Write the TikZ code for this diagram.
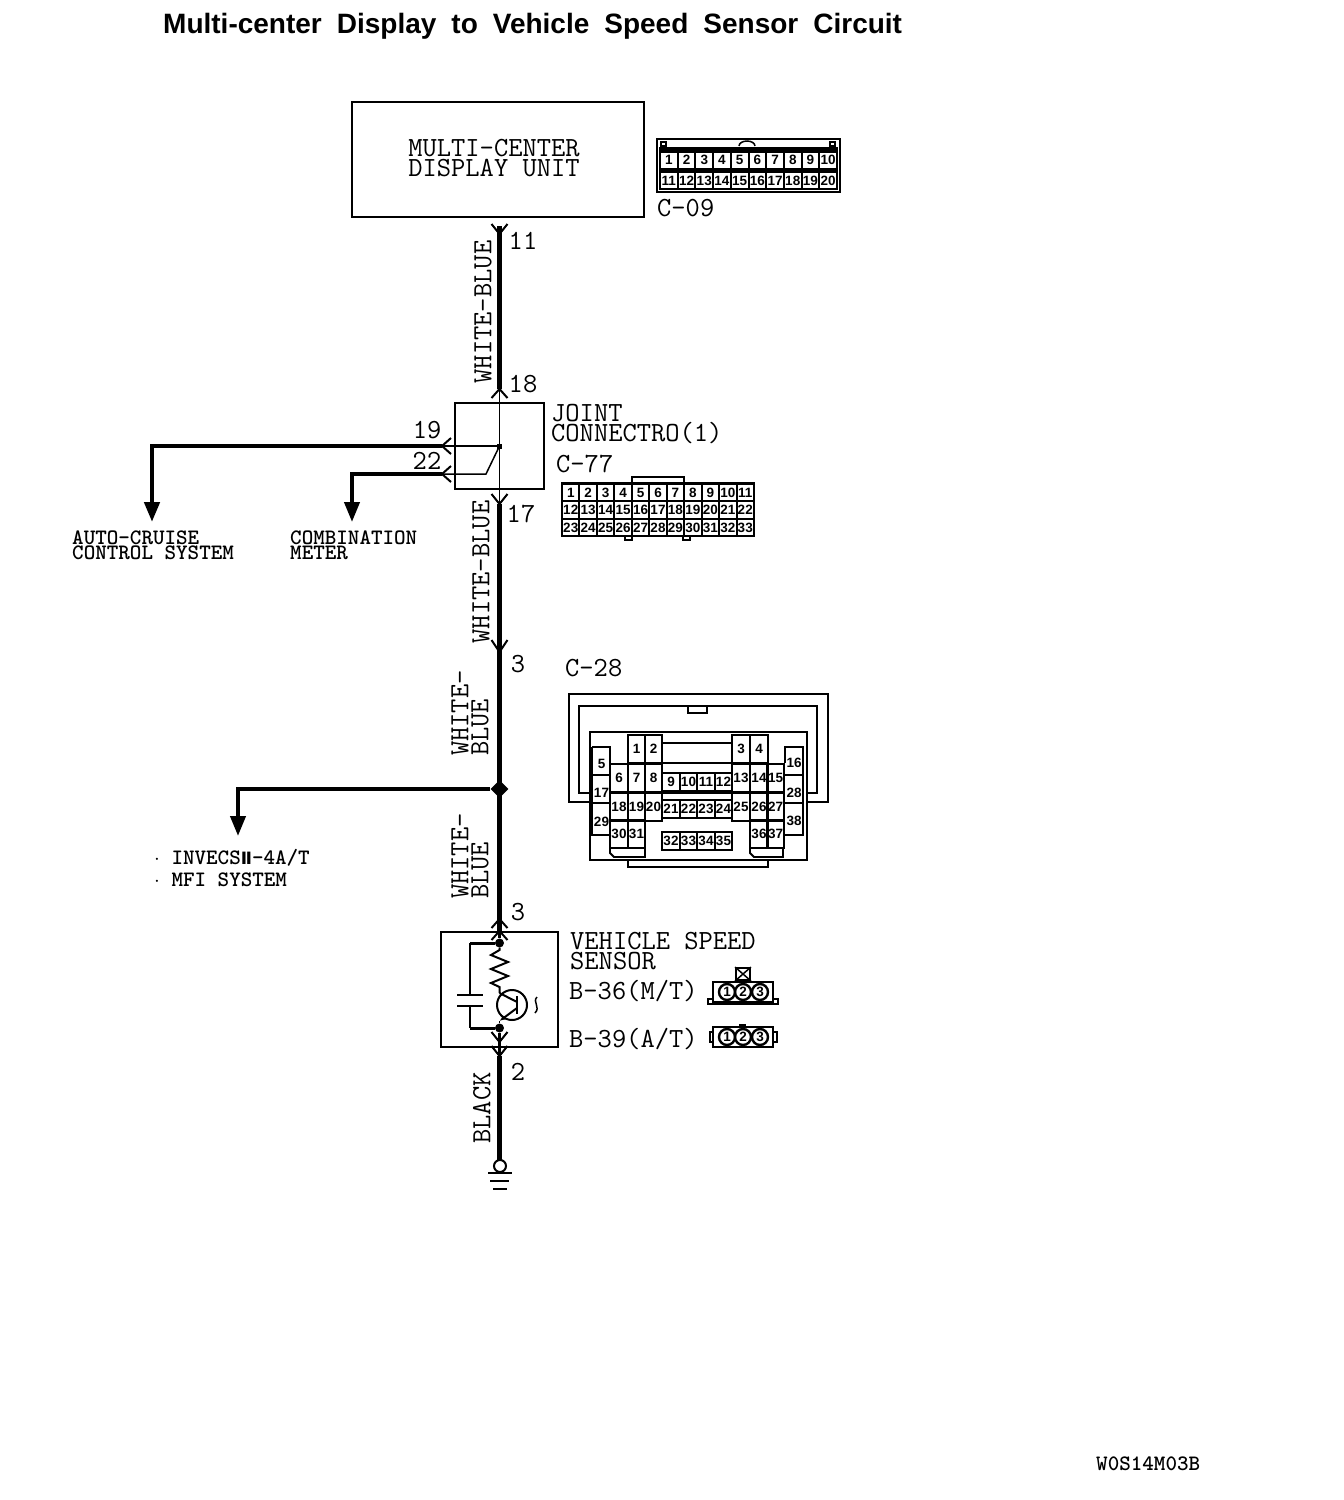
\documentclass[tikz,border=0pt]{standalone}
\usepackage{fontspec}
\usetikzlibrary{arrows.meta,shapes.geometric}
\newfontfamily\cellfont{Liberation Sans}
\newfontfamily\romanfont{DejaVu Sans}
\begin{document}
\begin{tikzpicture}[x=1pt,y=-1pt]
	\tikzstyle{box_style} = [rectangle,draw=black,line width=1.3pt,inner sep=0pt]
	\tikzstyle{big_text} = [inner sep=0pt,align=left,font=\ttfamily\fontsize{27.7}{20}\selectfont]
	\tikzstyle{small_text} = [inner sep=0pt,align=left,anchor=west,font=\ttfamily\bfseries\fontsize{22}{15.5}\selectfont]
	\tikzstyle{wire_style} = [draw=black,line width=5pt]
	\tikzstyle{branch_style} = [draw=black,line width=4.5pt,line join=miter,-{Triangle[length=20pt,width=15pt]}]
	\tikzstyle{thin_style} = [draw=black,line width=1.5pt]
	\tikzstyle{pin_style} = [draw=black,line width=2pt]
	\tikzstyle{cell_style} = [rectangle,draw=black,line width=2pt,inner sep=0pt,font=\cellfont\bfseries\fontsize{13.5}{14}\selectfont]
	\tikzstyle{shell_style} = [draw=black,line width=1.8pt]
	\tikzstyle{dot_style} = [circle,fill=black,inner sep=0pt,minimum size=9pt]
	\tikzstyle{pos_style} = [circle,draw=black,line width=2.4pt,inner sep=0pt,minimum size=16pt,font=\cellfont\bfseries\fontsize{13.5}{14}\selectfont]
	\useasboundingbox (0,0) rectangle (1344,1500);

	% title and drawing number
	\node[anchor=west,inner sep=0pt,font=\cellfont\bfseries\fontsize{28}{28}\selectfont] (title) at (163,26) {\spaceskip=15pt Multi-center Display to Vehicle Speed Sensor Circuit};
	\node[small_text] (drawing_no) at (1096,1464) {W0S14M03B};

	% units
	\node[box_style,minimum width=292pt,minimum height=115pt] (display) at (498,159.5) {};
	\node[big_text,align=center] (display_text) at (494,158.5) {MULTI-CENTER\\DISPLAY UNIT};
	\node[box_style,minimum width=89pt,minimum height=86pt] (joint) at (499.5,446) {};
	\node[box_style,minimum width=117pt,minimum height=115pt] (sensor) at (499.5,989.5) {};
	\node[big_text,anchor=west] (joint_text) at (551,424.5) {JOINT\\CONNECTRO(1)};
	\node[big_text,anchor=west] (c77) at (556,464) {C-77};
	\node[big_text,anchor=west] (c09) at (657,208) {C-09};
	\node[big_text,anchor=west] (c28) at (565,668) {C-28};
	\node[big_text,anchor=west] (sensor_text) at (570,951) {VEHICLE SPEED\\SENSOR};
	\node[big_text,anchor=west] (b36) at (569,991) {B-36(M/T)};
	\node[big_text,anchor=west] (b39) at (569,1039) {B-39(A/T)};

	% terminals
	\coordinate (t11) at (499.5,234);
	\coordinate (t18) at (499.5,389);
	\coordinate (t19) at (442,446);
	\coordinate (t22) at (442,474);
	\coordinate (t17) at (499.5,504);
	\coordinate (t3a) at (499.5,652);
	\coordinate (t3b) at (499.5,919);
	\coordinate (t3c) at (499.5,931);
	\coordinate (t2a) at (499.5,1042);
	\coordinate (t2b) at (499.5,1056);
	\coordinate (cruise) at (152,522);
	\coordinate (meter) at (352,522);
	\coordinate (invecs) at (238,836);
	\coordinate (earth) at (499.5,1160);
	\node[diamond,fill=black,inner sep=0pt,minimum size=18pt] (branch) at (499.5,789) {};
	\node[rectangle,fill=black,inner sep=0pt,minimum size=5pt] (joint_dot) at (499.5,446) {};
	\coordinate (knee) at (486,474);
	\draw[pin_style] (t11) ++(-8,-10) -- ++(8,10) -- ++(8,-10);
	\draw[pin_style] (t18) ++(-8,9) -- ++(8,-9) -- ++(8,9);
	\draw[pin_style] (t17) ++(-8,-10) -- ++(8,10) -- ++(8,-10);
	\draw[pin_style] (t3a) ++(-8,-12) -- ++(8,12) -- ++(8,-12);
	\draw[pin_style] (t3b) ++(-8,9) -- ++(8,-9) -- ++(8,9);
	\draw[pin_style] (t3c) ++(-8,9) -- ++(8,-9) -- ++(8,9);
	\draw[pin_style] (t2a) ++(-8,-10) -- ++(8,10) -- ++(8,-10);
	\draw[pin_style] (t2b) ++(-8,-10) -- ++(8,10) -- ++(8,-10);
	\draw[pin_style] (t19) ++(9,-8) -- ++(-9,8) -- ++(9,8);
	\draw[pin_style] (t22) ++(9,-8) -- ++(-9,8) -- ++(9,8);

	% wires
	\draw[wire_style] (t11) ++(0,-8) -- (t18);
	\draw[thin_style] (t18) -- (t17);
	\draw[thin_style] (joint_dot) -- (t19);
	\draw[thin_style] (joint_dot) -- (knee) -- (t22);
	\draw[wire_style] (t17) -- (t3c);
	\draw[wire_style] (t2b) -- (earth);
	\draw[branch_style] (t19) -- (152,446) -- (cruise);
	\draw[branch_style,line width=4pt] (t22) -- (352,474) -- (meter);
	\draw[branch_style,line width=4pt] (branch) -- (238,789) -- (invecs);

	% terminal numbers
	\node[big_text] (n11) at (523,241) {11};
	\node[big_text] (n18) at (523,384) {18};
	\node[big_text] (n19) at (427,430) {19};
	\node[big_text] (n22) at (427,461) {22};
	\node[big_text] (n17) at (521,514) {17};
	\node[big_text] (n3a) at (518,664) {3};
	\node[big_text] (n3b) at (518,912) {3};
	\node[big_text] (n2) at (518,1072) {2};

	% wire colours
	\node[big_text,rotate=90] (w1) at (483,312) {WHITE-BLUE};
	\node[big_text,rotate=90] (w2) at (481,572) {WHITE-BLUE};
	\node[big_text,rotate=90,anchor=west] (w3) at (470,756) {WHITE-\\BLUE};
	\node[big_text,rotate=90,anchor=west] (w4) at (470,899) {WHITE-\\BLUE};
	\node[big_text,rotate=90] (w5) at (482,1108) {BLACK};

	% destinations
	\node[small_text] (cruise_text) at (72,545.5) {AUTO-CRUISE\\CONTROL SYSTEM};
	\node[small_text] (meter_text) at (290,545.5) {COMBINATION\\METER};
	\node[small_text] (invecs_text) at (154,858) {$\cdot$ INVECS{\romanfont\fontsize{17}{17}\selectfont\char"2161}-4A/T};
	\node[small_text] (mfi_text) at (154,880) {$\cdot$ MFI SYSTEM};

	% speed sensor inside
	\node[dot_style] (s_top) at (499.5,943) {};
	\node[dot_style] (s_bot) at (499.5,1028) {};
	\coordinate (s_c1) at (470,943);
	\coordinate (s_c2) at (470,1028);
	\coordinate (plate1) at (470,995);
	\coordinate (plate2) at (470,1006);
	\draw[wire_style,line width=3pt] (t3c) -- (s_top);
	\draw[wire_style,line width=3pt] (s_bot) -- (t2b);
	\draw[wire_style,line width=3pt] (s_top) -- (s_c1);
	\draw[wire_style,line width=3pt] (s_bot) -- (s_c2);
	\draw[thin_style] (s_c1) -- (plate1);
	\draw[thin_style] (s_c2) -- (plate2);
	\draw[thin_style] (plate1) ++(-13,0) -- ++(26,0);
	\draw[thin_style] (plate2) ++(-13,0) -- ++(26,0);
	\draw[draw=black,line width=2pt] (s_top) -- (499.5,950) -- (491,955) -- (508,962) -- (491,969) -- (508,976) -- (491,983) -- (499.5,987) -- (499.5,993);
	\node[circle,draw=black,line width=2pt,fill=white,minimum size=30pt,inner sep=0pt] (tr) at (512,1005) {};
	\draw[draw=black,line width=2.5pt] (517,996) -- (517,1014);
	\draw[draw=black,line width=2pt] (499.5,993) -- (517,1002);
	\draw[draw=black,line width=2pt,-{Latex[length=6pt,width=5pt]}] (517,1008) -- (499.5,1021);
	\draw[thin_style] (499.5,1021) -- (s_bot);
	\draw[thin_style] (537,997) .. controls (532,1002) and (541,1007) .. (535,1013);

	% earth
	\node[circle,draw=black,line width=2pt,inner sep=0pt,minimum size=12pt] (ring) at (500,1166) {};
	\draw[wire_style,line width=2pt] (488,1172.5) -- (512,1172.5);
	\draw[thin_style] (490,1181) -- (509,1181);
	\draw[wire_style,line width=2pt] (493,1189) -- (507,1189);

	% connector C-09
	\node[shell_style,rectangle,minimum width=183pt,minimum height=53pt,line width=2.5pt,inner sep=0pt] (c09_shell) at (748.5,165.5) {};
	\fill[black] (659,147) rectangle (838,151);
	\fill[black] (659,168.5) rectangle (838,172);
	\draw[draw=black,line width=1.5pt] (739,146) arc (180:360:8 and 5);
	\draw[thin_style] (661,146) rectangle (666,142);
	\draw[thin_style] (830,146) rectangle (835,142);
	\foreach \i in {1,...,10}
		\node[cell_style,minimum width=17.7pt,minimum height=17pt] (a\i) at (660+\i*17.7-8.85,160) {\i};
	\foreach \i in {11,...,20}
		\node[cell_style,minimum width=17.7pt,minimum height=17pt] (a\i) at (660+\i*17.7-185.85,180.5) {\i};

	% connector C-77
	\node[shell_style,rectangle,minimum width=192pt,minimum height=53pt,inner sep=0pt] (c77_shell) at (658,509.5) {};
	\draw[shell_style] (632,483) -- (632,477) -- (684,477) -- (684,483);
	\draw[shell_style] (625,536) -- (625,540) -- (632,540) -- (632,536);
	\draw[shell_style] (683,536) -- (683,540) -- (690,540) -- (690,536);
	\foreach \i in {1,...,11}
		\node[cell_style,minimum width=17.45pt,minimum height=17.6pt] (b\i) at (562+\i*17.45-8.7,492.5) {\i};
	\foreach \i in {12,...,22}
		\node[cell_style,minimum width=17.45pt,minimum height=17.6pt] (b\i) at (562+\i*17.45-200.65,510) {\i};
	\foreach \i in {23,...,33}
		\node[cell_style,minimum width=17.45pt,minimum height=17.6pt] (b\i) at (562+\i*17.45-392.6,527.5) {\i};

	% connector C-28
	\draw[shell_style] (590,802) -- (569,802) -- (569,694) -- (828,694) -- (828,802) -- (807,802);
	\draw[shell_style] (590,793) -- (579,793) -- (579,706) -- (817,706) -- (817,793) -- (807,793);
	\draw[shell_style] (688,706) -- (688,713) -- (707,713) -- (707,706);
	\node[shell_style,rectangle,minimum width=217pt,minimum height=128pt,inner sep=0pt] (c28_body) at (698.5,796) {};
	\draw[shell_style] (628,860) -- (628,867) -- (768,867) -- (768,860);
	\draw[shell_style] (662,743) -- (732,743);
	\draw[shell_style] (662,763) -- (732,763);
	\draw[shell_style] (662,793) -- (732,793);
	\foreach \n/\x/\y in {1/636.5/749,2/653.5/749,3/741/749,4/759/749,
		6/619/778,7/636.5/778,8/653.5/778,13/741/778,14/759/778,15/775.5/778,
		18/619/807,19/636.5/807,20/653.5/807,25/741/807,26/759/807,27/775.5/807,
		30/619/834,31/636.5/834,36/759/834,37/775.5/834}
		\node[cell_style,minimum width=17.5pt,minimum height=28pt] (c\n) at (\x,\y) {\n};
	\foreach \n/\x/\y in {9/671/781.5,10/688.5/781.5,11/706/781.5,12/723.5/781.5,
		21/671/809,22/688.5/809,23/706/809,24/723.5/809,
		32/671/841,33/688.5/841,34/706/841,35/723.5/841}
		\node[cell_style,minimum width=17.5pt,minimum height=18pt] (c\n) at (\x,\y) {\n};
	\foreach \n/\x/\y in {5/601.5/764,17/601.5/793,29/601.5/822,16/794/763,28/794/793,38/794/821}
		\node[cell_style,draw=none,minimum width=17pt,minimum height=18pt] (c\n) at (\x,\y) {\n};
	\draw[shell_style] (592,747) -- (610,747) -- (610,763);
	\draw[shell_style] (592,747) -- (592,835) -- (610,835);
	\draw[shell_style] (592,775) -- (610,775);
	\draw[shell_style] (592,803) -- (610,803);
	\draw[shell_style] (785,763) -- (785,747) -- (803,747) -- (803,835) -- (785,835);
	\draw[shell_style] (785,775) -- (803,775);
	\draw[shell_style] (785,803) -- (803,803);
	\draw[shell_style] (610,848) -- (610,853) -- (614,857) -- (645,857) -- (645,848);
	\draw[shell_style] (750,848) -- (750,853) -- (754,857) -- (783,857) -- (783,848);

	% connector B-36
	\node[shell_style,rectangle,line width=2.4pt,minimum width=60pt,minimum height=20pt,inner sep=0pt] (b36_shell) at (743,992) {};
	\draw[shell_style] (713,999) -- (708,999) -- (708,1004) -- (778,1004) -- (778,999) -- (773,999);
	\node[shell_style,rectangle,minimum width=14pt,minimum height=12pt,inner sep=0pt] (b36_lock) at (743,974) {};
	\draw[thin_style] (b36_lock.north west) -- (b36_lock.south east);
	\draw[thin_style] (b36_lock.north east) -- (b36_lock.south west);
	\node[pos_style] (d1) at (727,992) {1};
	\node[pos_style] (d2) at (743,992) {2};
	\node[pos_style] (d3) at (760,992) {3};

	% connector B-39
	\node[shell_style,rectangle,line width=2.4pt,minimum width=60pt,minimum height=20pt,inner sep=0pt] (b39_shell) at (743,1037) {};
	\fill[black] (739,1024) rectangle (746,1027);
	\draw[shell_style] (713,1032) -- (710,1032) -- (710,1042) -- (713,1042);
	\draw[shell_style] (773,1032) -- (777,1032) -- (777,1042) -- (773,1042);
	\node[pos_style] (e1) at (727,1037) {1};
	\node[pos_style] (e2) at (743,1037) {2};
	\node[pos_style] (e3) at (760,1037) {3};
\end{tikzpicture}
\end{document}
